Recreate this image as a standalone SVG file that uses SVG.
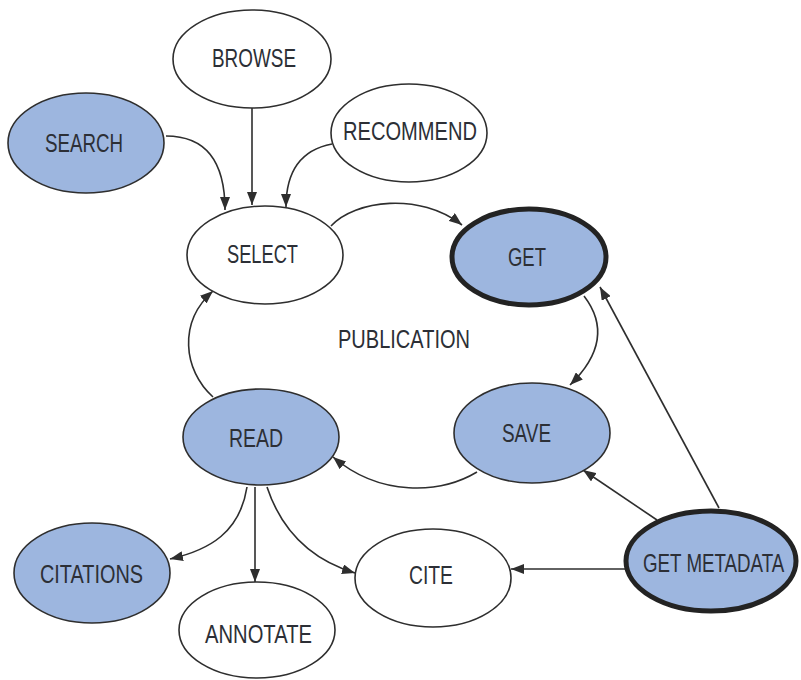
<svg xmlns="http://www.w3.org/2000/svg" width="801" height="680" viewBox="0 0 801 680">
<defs>
<style>
.n{fill:#ffffff;stroke:#2e2e2e;stroke-width:1.6}
.b{fill:#9db6df;stroke:#2e2e2e;stroke-width:1.6}
.k{fill:#9db6df;stroke:#232323;stroke-width:5}
.t{font-family:"Liberation Sans",Arial,sans-serif;font-size:25px;fill:#2c2f36}
.c{fill:none;stroke:#2e2e2e;stroke-width:1.6}
</style>
<marker id="ah" viewBox="0 0 13 10" refX="13" refY="5" markerWidth="13" markerHeight="10" markerUnits="userSpaceOnUse" orient="auto">
<path d="M0,0 L13,5 L0,10 Z" fill="#2e2e2e"/>
</marker>
</defs>
<rect width="801" height="680" fill="#ffffff"/>
<g id="connectors">
<path class="c" marker-end="url(#ah)" d="M166,136 C205,136 225,160 225,210"/>
<path class="c" marker-end="url(#ah)" d="M252,108 L252,205"/>
<path class="c" marker-end="url(#ah)" d="M332,144 C300,150 286,172 286,207"/>
<path class="c" marker-end="url(#ah)" d="M331,226 C355,200 420,192 462,225"/>
<path class="c" marker-end="url(#ah)" d="M584,296 C604,322 604,352 570,385"/>
<path class="c" marker-end="url(#ah)" d="M719,508 L600,287"/>
<path class="c" marker-end="url(#ah)" d="M657,520 L583,470"/>
<path class="c" marker-end="url(#ah)" d="M625,569 L511,569"/>
<path class="c" marker-end="url(#ah)" d="M477,472 C440,494 380,497 333,457"/>
<path class="c" marker-end="url(#ah)" d="M213,397 C183,370 178,322 213,291"/>
<path class="c" marker-end="url(#ah)" d="M247,487 C240,532 210,550 170,559"/>
<path class="c" marker-end="url(#ah)" d="M255,487 L255,582"/>
<path class="c" marker-end="url(#ah)" d="M267,487 C282,532 312,560 355,573"/>
</g>
<g id="browse"><ellipse class="n" cx="252" cy="59" rx="79" ry="49"/><text class="t" x="212" y="67" textLength="84" lengthAdjust="spacingAndGlyphs">BROWSE</text></g>
<g id="search"><ellipse class="b" cx="86" cy="143" rx="78" ry="50"/><text class="t" x="45" y="152" textLength="78" lengthAdjust="spacingAndGlyphs">SEARCH</text></g>
<g id="recommend"><ellipse class="n" cx="409" cy="133" rx="78" ry="49"/><text class="t" x="343" y="140" textLength="134" lengthAdjust="spacingAndGlyphs">RECOMMEND</text></g>
<g id="select"><ellipse class="n" cx="265" cy="255" rx="78" ry="49"/><text class="t" x="227" y="263" textLength="71" lengthAdjust="spacingAndGlyphs">SELECT</text></g>
<g id="get"><ellipse class="k" cx="529" cy="257" rx="77" ry="48"/><text class="t" x="508" y="266" textLength="38" lengthAdjust="spacingAndGlyphs">GET</text></g>
<g id="publication"><text class="t" x="338" y="348" font-size="23" textLength="132" lengthAdjust="spacingAndGlyphs">PUBLICATION</text></g>
<g id="save"><ellipse class="b" cx="532" cy="433" rx="78" ry="50"/><text class="t" x="502" y="442" textLength="49" lengthAdjust="spacingAndGlyphs">SAVE</text></g>
<g id="read"><ellipse class="b" cx="261" cy="437" rx="78" ry="48"/><text class="t" x="229" y="447" textLength="54" lengthAdjust="spacingAndGlyphs">READ</text></g>
<g id="citations"><ellipse class="b" cx="92" cy="573" rx="78" ry="50"/><text class="t" x="40" y="583" textLength="103" lengthAdjust="spacingAndGlyphs">CITATIONS</text></g>
<g id="annotate"><ellipse class="n" cx="257" cy="630" rx="78" ry="48"/><text class="t" x="205" y="643" textLength="107" lengthAdjust="spacingAndGlyphs">ANNOTATE</text></g>
<g id="cite"><ellipse class="n" cx="433" cy="578" rx="78" ry="49"/><text class="t" x="409" y="584" textLength="44" lengthAdjust="spacingAndGlyphs">CITE</text></g>
<g id="get-metadata"><ellipse class="k" cx="711" cy="561" rx="85" ry="50"/><text class="t" transform="translate(643,572) scale(0.75,1)" x="0" y="0">GET METADATA</text></g>
</svg>
